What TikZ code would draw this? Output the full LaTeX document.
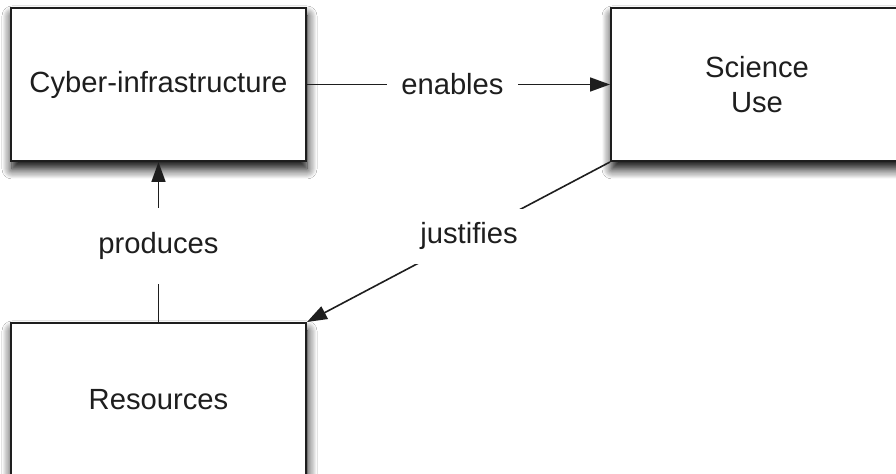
\documentclass[tikz,border=0pt]{standalone}
\usepackage{fontspec}
\setmainfont{Liberation Sans}
\usetikzlibrary{arrows.meta, shadows.blur}
\definecolor{inkgray}{RGB}{30,30,30}

\begin{document}
\begin{tikzpicture}[
  x=0.5pt, y=-0.5pt,
  box/.style={draw=inkgray, line width=1pt, fill=white, inner sep=0pt,
    minimum width=147.5pt, minimum height=76.5pt, align=center,
    font=\fontsize{14.6}{17.5}\selectfont, text=inkgray,
    blur shadow={shadow xshift=0.5pt, shadow yshift=-4pt,
      shadow blur radius=5pt, shadow blur steps=10, shadow opacity=100}},
  arr/.style={-{Triangle[length=10pt, width=7pt]}, line width=0.8pt, draw=inkgray},
  lbl/.style={fill=white, inner sep=7pt, text=inkgray,
    font=\fontsize{14.6}{17.5}\selectfont}
]
  \clip (0,0) rectangle (896,474);
  \fill[white] (0,0) rectangle (896,474);
  % boxes
  \node[box] (cyber) at (158.5, 84.5) {Cyber-infrastructure};
  \node[box, minimum width=146pt] (sci) at (757, 84.5) {Science\\Use};
  \node[box, minimum height=77pt] (res) at (158.5, 400) {Resources};
  % connectors
  \draw[arr] (cyber) -- node[lbl, pos=0.48] {enables} (sci);
  \draw[arr] (sci.south west) -- node[lbl, pos=0.465] {justifies} (res.north east);
  \draw[arr] (res) -- node[lbl, pos=0.475, inner ysep=12pt] {produces} (cyber);
\end{tikzpicture}
\end{document}
